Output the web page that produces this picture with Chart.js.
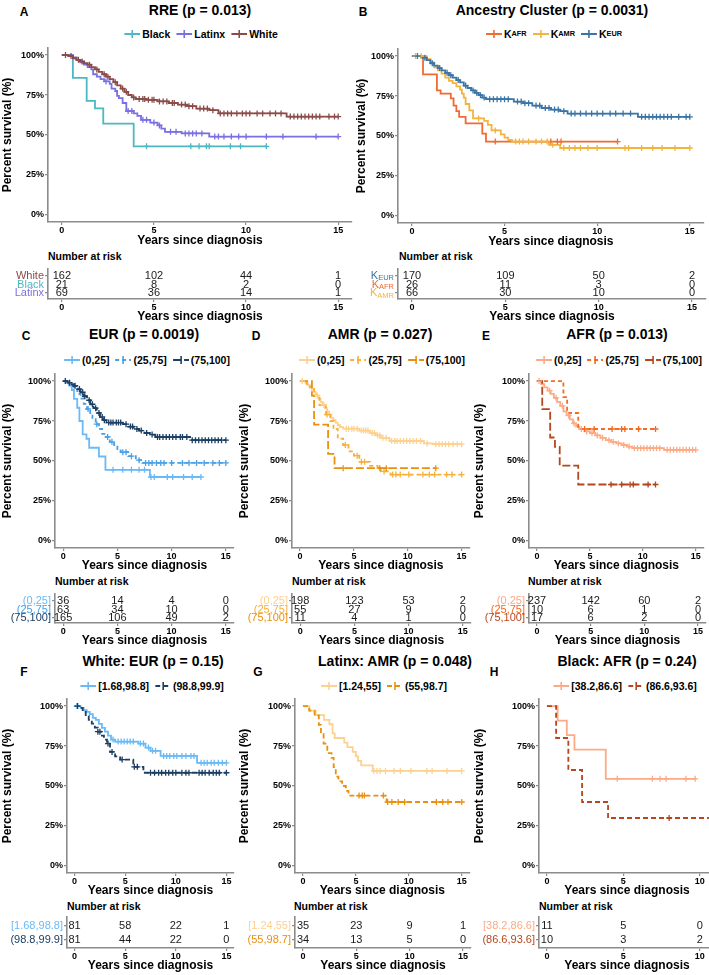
<!DOCTYPE html>
<html><head><meta charset="utf-8">
<script src="https://cdn.jsdelivr.net/npm/chart.js@4.4.0/dist/chart.umd.min.js"></script>
<style>
html,body{margin:0;padding:0;background:#fff;width:709px;height:975px;overflow:hidden;}
#root{position:relative;width:709px;height:975px;overflow:hidden;font-family:'Liberation Sans',Arial,sans-serif;color:#000;}
canvas{position:absolute;}
.c{position:absolute;transform:translate(-50%,-50%);white-space:nowrap;}
.title{font-weight:bold;font-size:14px;}
.letter{font-weight:bold;font-size:12px;}
.nar{position:absolute;transform:translateY(-50%);font-weight:bold;font-size:10.5px;white-space:nowrap;}
.leg{position:absolute;transform:translate(-50%,-50%);display:flex;align-items:center;font-weight:bold;font-size:10.5px;white-space:nowrap;}
.leg .item{display:flex;align-items:center;margin:0 3px;}
.leg svg{margin-right:2px;}
sub{font-size:70%;vertical-align:-2px;line-height:0;}
</style></head>
<body><div id="root"></div>
<script>
const FONT = "'Liberation Sans', Arial, sans-serif";
const xTicks15 = [0, 5, 10, 15];
const xTicks10 = [0, 5, 10];
const yTicks = [0, 0.25, 0.5, 0.75, 1];
const riskTimes15 = [0, 5, 10, 15];
const riskTimes10 = [0, 5, 10];

// ---------- Panel A : RRE ----------
const aWhiteTime = [0, 0.35, 0.6, 0.8, 1.0, 1.2, 1.4, 1.6, 1.8, 2.0, 2.2, 2.4, 2.6, 2.8, 3.0, 3.2, 3.4, 3.6, 3.8, 4.0, 4.6, 5.2, 5.8, 6.3, 6.8, 7.3, 8.0, 8.5, 12.2, 15.0];
const aWhiteSurv = [1, 0.994, 0.98, 0.97, 0.96, 0.95, 0.94, 0.925, 0.91, 0.895, 0.88, 0.865, 0.85, 0.83, 0.81, 0.79, 0.77, 0.75, 0.735, 0.725, 0.72, 0.71, 0.70, 0.69, 0.68, 0.665, 0.655, 0.635, 0.615, 0.615];
const aWhiteCens = [0.2, 0.5, 0.9, 1.1, 1.5, 1.9, 2.3, 2.5, 2.9, 3.3, 3.5, 3.9, 4.2, 4.4, 4.5, 4.7, 4.9, 5.0, 5.3, 5.5, 5.7, 6.0, 6.1, 6.5, 6.7, 6.9, 7.1, 7.5, 7.7, 7.9, 8.2, 8.6, 8.8, 9.0, 9.2, 9.5, 9.8, 10.0, 10.2, 10.6, 10.9, 11.3, 11.6, 11.9, 12.4, 12.6, 12.8, 13.0, 13.2, 13.4, 13.6, 13.8, 14.0, 14.5, 14.8, 15.0];
const aLatinxTime = [0, 0.6, 0.8, 1.0, 1.2, 1.4, 1.6, 1.7, 1.9, 2.1, 2.3, 2.6, 2.7, 2.9, 3.0, 3.1, 3.3, 3.5, 3.9, 4.1, 4.3, 4.8, 5.2, 5.4, 5.6, 6.5, 8.0, 15.0];
const aLatinxSurv = [1, 0.985, 0.97, 0.955, 0.94, 0.925, 0.91, 0.88, 0.865, 0.85, 0.835, 0.82, 0.79, 0.775, 0.745, 0.73, 0.70, 0.65, 0.635, 0.62, 0.595, 0.578, 0.56, 0.54, 0.52, 0.51, 0.49, 0.49];
const aLatinxCens = [2.4, 3.6, 3.8, 4.4, 4.6, 5.0, 5.3, 5.9, 6.2, 6.7, 6.9, 7.1, 7.3, 7.6, 8.3, 8.5, 8.8, 9.2, 9.6, 10.0, 11.1, 12.0, 13.8, 15.0];
const aBlackTime = [0, 0.6, 1.35, 1.8, 2.25, 3.9, 11.1];
const aBlackSurv = [1, 0.857, 0.714, 0.667, 0.571, 0.429, 0.429];
const aBlackCens = [4.6, 7.0, 7.45, 7.85, 8.0, 9.15, 9.7, 11.1];
const aRiskWhite = [162, 102, 44, 1];
const aRiskBlack = [21, 8, 2, 0];
const aRiskLatinx = [69, 36, 14, 1];

// ---------- Panel B : Ancestry cluster ----------
const bEurTime = [0, 0.5, 0.8, 1.0, 1.2, 1.4, 1.6, 1.8, 2.0, 2.2, 2.4, 2.6, 2.8, 3.0, 3.2, 3.4, 3.6, 3.8, 4.0, 5.5, 6.0, 6.5, 7.0, 7.5, 8.0, 8.4, 12.2, 15.0];
const bEurSurv = [1, 0.99, 0.975, 0.955, 0.94, 0.925, 0.91, 0.895, 0.88, 0.865, 0.85, 0.835, 0.815, 0.80, 0.785, 0.77, 0.755, 0.74, 0.73, 0.715, 0.705, 0.69, 0.675, 0.665, 0.655, 0.64, 0.62, 0.62];
const bEurCens = [0.3, 0.7, 1.1, 1.5, 1.9, 2.1, 2.5, 2.9, 3.3, 3.5, 3.7, 3.9, 4.2, 4.4, 4.6, 4.8, 5.0, 5.2, 5.7, 5.9, 6.1, 6.3, 6.7, 6.9, 7.2, 7.4, 7.7, 7.9, 8.2, 8.6, 8.8, 9.1, 9.4, 9.7, 10.0, 10.3, 10.7, 11.0, 11.4, 11.8, 12.4, 12.6, 12.8, 13.0, 13.2, 13.4, 13.6, 13.8, 14.0, 14.4, 14.8, 15.0];
const bAmrTime = [0, 0.8, 1.0, 1.2, 1.4, 1.6, 1.8, 2.0, 2.2, 2.4, 2.6, 2.7, 2.8, 2.9, 3.1, 3.3, 3.9, 4.1, 4.3, 4.8, 5.0, 5.2, 5.4, 7.4, 8.0, 15.0];
const bAmrSurv = [1, 0.98, 0.96, 0.93, 0.91, 0.89, 0.865, 0.845, 0.83, 0.81, 0.79, 0.765, 0.74, 0.70, 0.66, 0.61, 0.595, 0.57, 0.535, 0.51, 0.49, 0.475, 0.465, 0.445, 0.425, 0.425];
const bAmrCens = [0.2, 0.5, 3.6, 4.5, 5.6, 5.8, 6.0, 6.3, 6.7, 7.0, 7.3, 7.6, 8.2, 8.5, 8.8, 9.1, 9.5, 10.0, 11.5, 11.7, 12.4, 13.0, 13.5, 14.2, 15.0];
const bAfrTime = [0, 0.6, 1.35, 1.55, 2.1, 2.25, 2.4, 2.55, 2.9, 3.8, 4.0, 11.1];
const bAfrSurv = [1, 0.885, 0.785, 0.765, 0.735, 0.69, 0.655, 0.62, 0.579, 0.515, 0.465, 0.465];
const bAfrCens = [4.5, 7.5, 7.85, 8.05, 11.1];
const bRiskEur = [170, 109, 50, 2];
const bRiskAfr = [26, 11, 3, 0];
const bRiskAmr = [66, 30, 10, 0];

// ---------- Panel C : EUR ----------
const cLowTime = [0, 0.55, 0.8, 1.0, 1.3, 1.5, 1.8, 2.15, 2.4, 3.3, 3.9, 8.0, 12.7];
const cLowSurv = [1, 0.972, 0.944, 0.889, 0.833, 0.75, 0.667, 0.639, 0.583, 0.528, 0.445, 0.40, 0.40];
const cLowCens = [4.6, 5.5, 6.3, 7.0, 7.5, 8.1, 8.4, 9.6, 10.1, 11.1, 11.9, 12.7];
const cMidTime = [0, 0.5, 0.8, 1.0, 1.3, 1.6, 1.9, 2.2, 2.5, 2.7, 3.0, 3.3, 3.6, 3.95, 4.3, 4.7, 5.0, 5.3, 6.0, 6.7, 7.3, 15.0];
const cMidSurv = [1, 0.984, 0.968, 0.952, 0.92, 0.89, 0.857, 0.825, 0.794, 0.762, 0.73, 0.70, 0.67, 0.65, 0.62, 0.60, 0.575, 0.555, 0.53, 0.505, 0.488, 0.488];
const cMidCens = [2.3, 3.1, 4.1, 4.5, 5.5, 5.8, 6.3, 7.0, 7.6, 7.9, 8.2, 8.6, 9.0, 9.3, 10.0, 11.0, 11.6, 12.3, 13.0, 13.8, 14.4, 15.0];
const cHighTime = [0, 0.4, 0.8, 1.0, 1.3, 1.6, 1.9, 2.2, 2.5, 2.8, 3.1, 3.4, 3.7, 4.0, 5.5, 6.0, 6.5, 7.0, 7.5, 8.0, 8.5, 11.7, 15.0];
const cHighSurv = [1, 0.99, 0.98, 0.97, 0.95, 0.93, 0.905, 0.88, 0.855, 0.83, 0.80, 0.775, 0.755, 0.74, 0.73, 0.715, 0.70, 0.69, 0.675, 0.665, 0.65, 0.63, 0.63];
const cHighCens = [0.2, 0.6, 1.1, 1.5, 1.8, 2.0, 2.4, 2.7, 3.0, 3.3, 3.6, 3.8, 4.2, 4.4, 4.6, 4.9, 5.1, 5.3, 5.8, 6.2, 6.4, 6.8, 7.2, 7.7, 8.2, 8.7, 8.9, 9.2, 9.5, 9.8, 10.1, 10.4, 10.8, 11.0, 11.4, 11.9, 12.2, 12.5, 12.8, 13.1, 13.4, 13.7, 14.0, 14.3, 14.6, 15.0];
const cRiskLow = [36, 14, 4, 0];
const cRiskMid = [63, 34, 10, 0];
const cRiskHigh = [165, 106, 49, 2];

// ---------- Panel D : AMR ----------
const dLowTime = [0, 0.5, 0.7, 0.9, 1.1, 1.3, 1.5, 1.7, 1.9, 2.1, 2.3, 2.5, 2.7, 2.9, 3.1, 3.3, 3.5, 3.7, 4.0, 5.5, 6.5, 7.0, 7.5, 8.3, 11.5, 12.3, 15.0];
const dLowSurv = [1, 0.99, 0.975, 0.96, 0.945, 0.93, 0.91, 0.89, 0.87, 0.85, 0.83, 0.81, 0.79, 0.77, 0.755, 0.74, 0.725, 0.712, 0.702, 0.69, 0.675, 0.66, 0.645, 0.625, 0.61, 0.605, 0.605];
const dLowCens = [0.2, 1.6, 2.2, 4.3, 4.5, 4.8, 5.0, 5.3, 5.7, 5.9, 6.1, 6.3, 6.7, 6.9, 7.2, 7.4, 7.7, 8.0, 8.5, 8.8, 9.0, 9.3, 9.6, 9.9, 10.2, 10.5, 10.8, 11.2, 11.8, 12.6, 12.9, 13.2, 13.5, 13.8, 14.2, 14.6, 15.0];
const dMidTime = [0, 0.6, 0.9, 1.3, 1.8, 2.4, 2.8, 3.1, 3.5, 4.0, 4.5, 5.0, 5.5, 6.5, 7.2, 7.5, 8.4, 15.0];
const dMidSurv = [1, 0.982, 0.96, 0.91, 0.85, 0.79, 0.75, 0.70, 0.64, 0.60, 0.56, 0.533, 0.495, 0.47, 0.45, 0.435, 0.415, 0.415];
const dMidCens = [2.5, 4.2, 5.3, 5.7, 6.0, 7.8, 8.6, 8.9, 9.3, 10.1, 11.4, 12.0, 12.5, 13.6, 14.1, 15.0];
const dHighTime = [0, 1.1, 1.3, 2.6, 3.2, 12.6];
const dHighSurv = [1, 0.909, 0.727, 0.545, 0.455, 0.455];
const dHighCens = [4.0, 7.4, 8.0, 12.6];
const dRiskLow = [198, 123, 53, 2];
const dRiskMid = [55, 27, 9, 0];
const dRiskHigh = [11, 4, 1, 0];

// ---------- Panel E : AFR ----------
const eLowTime = [0, 0.4, 0.7, 1.0, 1.3, 1.6, 1.9, 2.2, 2.5, 2.8, 3.1, 3.4, 3.7, 4.0, 4.5, 5.0, 5.5, 6.0, 6.5, 7.0, 7.5, 8.0, 8.5, 9.0, 12.0, 15.0];
const eLowSurv = [1, 0.98, 0.96, 0.94, 0.92, 0.895, 0.87, 0.845, 0.81, 0.785, 0.76, 0.735, 0.715, 0.70, 0.685, 0.675, 0.66, 0.645, 0.63, 0.62, 0.61, 0.60, 0.59, 0.58, 0.57, 0.57];
const eLowCens = [0.2, 1.2, 1.8, 2.4, 3.0, 3.5, 4.2, 4.7, 5.2, 5.7, 6.2, 6.8, 7.2, 7.7, 8.2, 8.7, 9.2, 9.5, 9.8, 10.1, 10.4, 10.7, 11.0, 11.3, 11.6, 12.3, 12.6, 12.9, 13.2, 13.5, 13.8, 14.1, 14.4, 14.7, 15.0];
const eMidTime = [0, 2.5, 2.85, 3.9, 11.2];
const eMidSurv = [1, 0.9, 0.8, 0.7, 0.7];
const eMidCens = [4.5, 5.4, 7.1, 8.0, 8.3, 9.6, 11.2];
const eHighTime = [0, 0.5, 1.25, 1.7, 2.15, 3.9, 11.2];
const eHighSurv = [1, 0.824, 0.647, 0.588, 0.471, 0.353, 0.353];
const eHighCens = [7.0, 8.0, 8.8, 9.1, 10.5, 11.2];
const eRiskLow = [237, 142, 60, 2];
const eRiskMid = [10, 6, 1, 0];
const eRiskHigh = [17, 6, 2, 0];

// ---------- Panel F : White: EUR ----------
const fLowTime = [0, 0.6, 0.9, 1.2, 1.5, 1.8, 2.1, 2.4, 2.7, 3.0, 3.3, 3.6, 4.0, 6.3, 7.0, 7.5, 8.5, 12.1, 15.0];
const fLowSurv = [1, 0.988, 0.975, 0.963, 0.95, 0.926, 0.913, 0.888, 0.864, 0.84, 0.815, 0.79, 0.778, 0.765, 0.74, 0.72, 0.688, 0.645, 0.645];
const fLowCens = [0.2, 3.8, 4.3, 4.6, 4.9, 5.2, 5.5, 5.8, 6.5, 6.8, 7.3, 7.7, 8.0, 8.8, 9.1, 9.4, 9.8, 10.1, 10.6, 11.0, 11.5, 11.8, 12.5, 12.8, 13.1, 13.5, 13.8, 14.2, 14.6, 15.0];
const fHighTime = [0, 0.5, 0.8, 1.1, 1.4, 1.7, 2.0, 2.3, 2.6, 2.9, 3.2, 3.5, 4.0, 4.5, 5.8, 6.8, 15.0];
const fHighSurv = [1, 0.988, 0.963, 0.938, 0.914, 0.89, 0.865, 0.84, 0.815, 0.79, 0.765, 0.713, 0.685, 0.665, 0.62, 0.583, 0.583];
const fHighCens = [0.3, 2.3, 2.5, 3.3, 3.7, 4.7, 5.9, 6.2, 7.5, 7.9, 8.3, 8.6, 9.0, 9.3, 9.7, 10.0, 10.6, 11.0, 11.3, 12.3, 12.6, 12.9, 13.3, 13.7, 14.0, 14.3, 15.0];
const fRiskLow = [81, 58, 22, 1];
const fRiskHigh = [81, 44, 22, 0];

// ---------- Panel G : Latinx: AMR ----------
const gLowTime = [0, 0.6, 1.2, 2.0, 2.5, 2.8, 3.0, 3.9, 4.2, 4.7, 5.0, 5.2, 5.5, 6.6, 15.0];
const gLowSurv = [1, 0.971, 0.943, 0.914, 0.886, 0.829, 0.80, 0.771, 0.743, 0.714, 0.686, 0.657, 0.629, 0.594, 0.594];
const gLowCens = [6.7, 7.0, 7.3, 7.8, 8.6, 9.2, 10.2, 11.7, 12.2, 13.6, 15.0];
const gHighTime = [0, 0.6, 1.1, 1.5, 1.7, 1.95, 2.3, 2.7, 2.9, 3.1, 3.35, 3.7, 4.05, 4.3, 7.9, 15.0];
const gHighSurv = [1, 0.971, 0.941, 0.882, 0.824, 0.765, 0.706, 0.676, 0.618, 0.559, 0.529, 0.50, 0.47, 0.44, 0.40, 0.40];
const gHighCens = [5.3, 5.6, 5.8, 7.6, 8.0, 8.4, 9.0, 9.6, 12.6, 13.2, 13.7, 15.0];
const gRiskLow = [35, 23, 9, 1];
const gRiskHigh = [34, 13, 5, 0];

// ---------- Panel H : Black: AFR ----------
const hLowTime = [0, 0.7, 1.3, 1.8, 3.85, 9.7];
const hLowSurv = [1, 0.909, 0.818, 0.727, 0.545, 0.545];
const hLowCens = [4.6, 6.9, 7.4, 7.8, 9.1, 9.7];
const hHighTime = [0, 0.6, 1.4, 2.3, 4.0, 10.6];
const hHighSurv = [1, 0.8, 0.6, 0.4, 0.3, 0.3];
const hHighCens = [8.0];
const hRiskLow = [11, 5, 0];
const hRiskHigh = [10, 3, 2];

// ---------- helpers ----------
const AXIS_COLOR = '#8c8c8c';
const DASH_SHORT = [4, 3];
const DASH_LONG = [8, 3];
const DASH_TWO = [5, 3];

function survAt(time, surv, t) {
  let v = surv[0];
  for (let i = 0; i < time.length; i++) { if (time[i] <= t) v = surv[i]; }
  return v;
}
const root = document.getElementById('root');
function addDiv(cls, x, y, html) {
  const d = document.createElement('div');
  d.className = cls; d.style.left = x + 'px'; d.style.top = y + 'px'; d.innerHTML = html;
  root.appendChild(d); return d;
}
function addCanvas(L, T, W, H) {
  const c = document.createElement('canvas');
  c.width = W; c.height = H;
  c.style.left = L + 'px'; c.style.top = T + 'px'; c.style.width = W + 'px'; c.style.height = H + 'px';
  root.appendChild(c); return c;
}
function xAxis(g) {
  return {
    type: 'linear', min: g.xmin, max: g.xmax,
    afterBuildTicks: s => { s.ticks = g.xticks.map(v => ({ value: v })); },
    afterFit: s => { s.height = g.T + g.H - g.CB; },
    grid: { drawOnChartArea: false, drawTicks: true, tickLength: 3, color: AXIS_COLOR, lineWidth: 1.2 },
    border: { display: true, color: AXIS_COLOR, width: 1.6 },
    ticks: { color: '#000', font: { family: FONT, size: 9, weight: 'bold' }, padding: 0, maxRotation: 0, autoSkip: false, callback: v => String(v) },
    title: { display: true, text: 'Years since diagnosis', color: '#000', font: { family: FONT, size: 12, weight: 'bold' }, padding: 0 }
  };
}
function mainChart(g, series) {
  const c = addCanvas(g.L, g.T, g.W, g.H);
  const ds = [];
  series.forEach((s, i) => {
    ds.push({ label: s.name, showLine: true, stepped: 'before',
      data: s.time.map((t, k) => ({ x: t, y: s.surv[k] })),
      borderColor: s.color, backgroundColor: s.color, borderWidth: 1.8, borderDash: s.dash,
      pointRadius: 0, order: 20 + i, clip: false });
    ds.push({ label: s.name + ' censored', showLine: false,
      data: s.cens.map(t => ({ x: t, y: survAt(s.time, s.surv, t) })),
      pointStyle: 'cross', pointRadius: 3, borderColor: s.color, backgroundColor: s.color, borderWidth: 1.3,
      order: i, clip: false });
  });
  new Chart(c, {
    type: 'scatter', data: { datasets: ds },
    options: {
      responsive: false, animation: false, events: [],
      layout: { padding: { left: 0, top: g.CT - g.T, right: g.L + g.W - g.CR, bottom: 0 } },
      plugins: { legend: { display: false }, tooltip: { enabled: false } },
      scales: {
        x: xAxis(g),
        y: {
          type: 'linear', min: -0.044, max: 1.044,
          afterBuildTicks: s => { s.ticks = yTicks.map(v => ({ value: v })); },
          afterFit: s => { s.width = g.CL - g.L; },
          grid: { drawOnChartArea: false, drawTicks: true, tickLength: 3, color: AXIS_COLOR, lineWidth: 1.2 },
          border: { display: true, color: AXIS_COLOR, width: 1.6 },
          ticks: { color: '#000', font: { family: FONT, size: 9, weight: 'bold' }, padding: 1, callback: v => Math.round(v * 100) + '%' },
          title: { display: true, text: 'Percent survival (%)', color: '#000', font: { family: FONT, size: 12, weight: 'bold' }, padding: 0 }
        }
      }
    }
  });
}
function riskChart(g, rows, times) {
  const c = addCanvas(g.L, g.T, g.W, g.H);
  const ds = rows.map((r, i) => ({
    label: r.label + (r.sub || ''), showLine: false, pointRadius: 0,
    data: times.map((t, k) => ({ x: t, y: i + 1, n: r.values[k] }))
  }));
  const textPlugin = {
    id: 'riskText',
    afterDatasetsDraw(chart) {
      const ctx = chart.ctx;
      ctx.save();
      ctx.textBaseline = 'middle';
      chart.data.datasets.forEach((d, i) => {
        const meta = chart.getDatasetMeta(i);
        ctx.font = '11px ' + FONT; ctx.fillStyle = '#1a1a1a'; ctx.textAlign = 'center';
        meta.data.forEach((pt, k) => { ctx.fillText(String(d.data[k].n), pt.x, pt.y + 0.5); });
      });
      const right = chart.chartArea.left - 4;
      rows.forEach((r, i) => {
        const y = chart.scales.y.getPixelForValue(i + 1) + 0.5;
        ctx.fillStyle = r.color;
        if (r.sub) {
          ctx.font = '7.5px ' + FONT; ctx.textAlign = 'right';
          const sw = ctx.measureText(r.sub).width;
          ctx.fillText(r.sub, right, y + 2.5);
          ctx.font = '11px ' + FONT;
          ctx.fillText(r.label, right - sw, y);
        } else {
          ctx.font = '11px ' + FONT; ctx.textAlign = 'right';
          ctx.fillText(r.label, right, y);
        }
      });
      ctx.restore();
    }
  };
  new Chart(c, {
    type: 'scatter', data: { datasets: ds },
    options: {
      responsive: false, animation: false, events: [],
      layout: { padding: { left: 0, top: g.CT - g.T, right: g.L + g.W - g.CR, bottom: 0 } },
      plugins: { legend: { display: false }, tooltip: { enabled: false } },
      scales: {
        x: xAxis(g),
        y: {
          type: 'linear', reverse: true, min: g.ymin, max: g.ymax,
          afterBuildTicks: s => { s.ticks = rows.map((r, i) => ({ value: i + 1 })); },
          afterFit: s => { s.width = g.CL - g.L; },
          grid: { drawOnChartArea: false, drawTicks: true, tickLength: 3, color: AXIS_COLOR, lineWidth: 1.2 },
          border: { display: true, color: AXIS_COLOR, width: 1.6 },
          ticks: { display: true, padding: 0, callback: () => '' },
          title: { display: false }
        }
      }
    },
    plugins: [textPlugin]
  });
}
function legend(x, y, items) {
  const html = items.map(it => {
    const dash = it.dash && it.dash.length ? ` stroke-dasharray="${it.dash.join(',')}"` : '';
    return `<span class="item"><svg width="16" height="10"><line x1="0" y1="5" x2="16" y2="5" stroke="${it.color}" stroke-width="2"${dash}/><line x1="8" y1="1" x2="8" y2="9" stroke="${it.color}" stroke-width="1.6"/></svg>${it.html}</span>`;
  }).join('');
  addDiv('leg', x, y, html);
}

// ---------- colours ----------
const colBlack = '#4db8c2', colLatinx = '#7a70e3', colWhite = '#8b4b48';
const colKAfr = '#ee6b33', colKAmr = '#f2b43f', colKEur = '#3b74a6';
const colEurLow = '#6bbaf7', colEurMid = '#4aa0e4', colEurHigh = '#1c3f63';
const colAmrLow = '#fdd190', colAmrMid = '#f7b03a', colAmrHigh = '#e9900f';
const colAfrLow = '#fcab86', colAfrMid = '#f46b22', colAfrHigh = '#b6461d';

// ---------- geometry ----------
const gA = { L: 0, T: 40, W: 360, H: 208, CL: 48, CR: 352, CT: 48, CB: 222, xmin: -0.75, xmax: 15.75, xticks: xTicks15 };
const gB = { L: 354, T: 40, W: 355, H: 209, CL: 398, CR: 706, CT: 49, CB: 223, xmin: -0.75, xmax: 15.75, xticks: xTicks15 };
const gC = { L: 0, T: 366, W: 240, H: 207, CL: 55, CR: 234, CT: 374, CB: 548, xmin: -0.75, xmax: 15.75, xticks: xTicks15 };
const gD = { L: 237, T: 366, W: 238, H: 207, CL: 292, CR: 471, CT: 374, CB: 548, xmin: -0.75, xmax: 15.75, xticks: xTicks15 };
const gE = { L: 472, T: 366, W: 237, H: 207, CL: 529, CR: 706, CT: 374, CB: 548, xmin: -0.75, xmax: 15.75, xticks: xTicks15 };
const gF = { L: 0, T: 690, W: 240, H: 208, CL: 67, CR: 234, CT: 699, CB: 873, xmin: -0.75, xmax: 15.75, xticks: xTicks15 };
const gG = { L: 237, T: 690, W: 238, H: 208, CL: 295, CR: 471, CT: 699, CB: 873, xmin: -0.75, xmax: 15.75, xticks: xTicks15 };
const gH = { L: 472, T: 690, W: 250, H: 208, CL: 539, CR: 715, CT: 699, CB: 873, xmin: -0.52, xmax: 11.0, xticks: xTicks10 };

const tA = Object.assign({}, gA, { T: 262, H: 62, CT: 265, CB: 299, ymin: 0.3, ymax: 3.7 });
const tB = Object.assign({}, gB, { T: 262, H: 62, CT: 265, CB: 299, ymin: 0.3, ymax: 3.7 });
const tC = Object.assign({}, gC, { T: 587, H: 61, CT: 590, CB: 623, ymin: 0.3, ymax: 3.6 });
const tD = Object.assign({}, gD, { T: 587, H: 61, CT: 590, CB: 623, ymin: 0.3, ymax: 3.6 });
const tE = Object.assign({}, gE, { T: 587, H: 61, CT: 590, CB: 623, ymin: 0.3, ymax: 3.6 });
const tF = Object.assign({}, gF, { T: 910, H: 63, CT: 914, CB: 948, ymin: 0.45, ymax: 2.55 });
const tG = Object.assign({}, gG, { T: 910, H: 63, CT: 914, CB: 948, ymin: 0.45, ymax: 2.55 });
const tH = Object.assign({}, gH, { T: 910, H: 63, CT: 914, CB: 948, ymin: 0.45, ymax: 2.55 });

// ---------- titles, letters ----------
addDiv('c title', 200, 10, 'RRE (p = 0.013)');
addDiv('c title', 552, 10, 'Ancestry Cluster (p = 0.0031)');
addDiv('c title', 144, 334, 'EUR (p = 0.0019)');
addDiv('c title', 380, 334, 'AMR (p = 0.027)');
addDiv('c title', 617, 334, 'AFR (p = 0.013)');
addDiv('c title', 153, 661, 'White: EUR (p = 0.15)');
addDiv('c title', 395, 661, 'Latinx: AMR (p = 0.048)');
addDiv('c title', 627, 661, 'Black: AFR (p = 0.24)');
[['A', 24, 12], ['B', 363, 12], ['C', 26, 336], ['D', 256, 336], ['E', 486, 336], ['F', 24, 672], ['G', 258, 672], ['H', 494, 672]]
  .forEach(l => addDiv('c letter', l[1], l[2], l[0]));
[[48, 256], [399, 256], [55, 581], [292, 581], [528, 581], [67, 906], [294, 906], [539, 906]]
  .forEach(p => addDiv('nar', p[0], p[1], 'Number at risk'));

// ---------- legends ----------
legend(201, 34, [{ color: colBlack, html: 'Black' }, { color: colLatinx, html: 'Latinx' }, { color: colWhite, html: 'White' }]);
legend(554, 34, [{ color: colKAfr, html: 'K<sub>AFR</sub>' }, { color: colKAmr, html: 'K<sub>AMR</sub>' }, { color: colKEur, html: 'K<sub>EUR</sub>' }]);
legend(147, 360, [{ color: colEurLow, html: '(0,25]' }, { color: colEurMid, dash: DASH_SHORT, html: '(25,75]' }, { color: colEurHigh, dash: DASH_LONG, html: '(75,100]' }]);
legend(382, 360, [{ color: colAmrLow, html: '(0,25]' }, { color: colAmrMid, dash: DASH_SHORT, html: '(25,75]' }, { color: colAmrHigh, dash: DASH_LONG, html: '(75,100]' }]);
legend(619, 360, [{ color: colAfrLow, html: '(0,25]' }, { color: colAfrMid, dash: DASH_SHORT, html: '(25,75]' }, { color: colAfrHigh, dash: DASH_LONG, html: '(75,100]' }]);
legend(152, 686, [{ color: colEurLow, html: '[1.68,98.8]' }, { color: colEurHigh, dash: DASH_TWO, html: '(98.8,99.9]' }]);
legend(384, 686, [{ color: colAmrLow, html: '[1.24,55]' }, { color: colAmrHigh, dash: DASH_TWO, html: '(55,98.7]' }]);
legend(625, 686, [{ color: colAfrLow, html: '[38.2,86.6]' }, { color: colAfrHigh, dash: DASH_TWO, html: '(86.6,93.6]' }]);

// ---------- charts ----------
mainChart(gA, [
  { name: 'White', time: aWhiteTime, surv: aWhiteSurv, cens: aWhiteCens, color: colWhite, dash: [] },
  { name: 'Latinx', time: aLatinxTime, surv: aLatinxSurv, cens: aLatinxCens, color: colLatinx, dash: [] },
  { name: 'Black', time: aBlackTime, surv: aBlackSurv, cens: aBlackCens, color: colBlack, dash: [] }
]);
riskChart(tA, [
  { label: 'White', color: colWhite, values: aRiskWhite },
  { label: 'Black', color: colBlack, values: aRiskBlack },
  { label: 'Latinx', color: colLatinx, values: aRiskLatinx }
], riskTimes15);

mainChart(gB, [
  { name: 'KEUR', time: bEurTime, surv: bEurSurv, cens: bEurCens, color: colKEur, dash: [] },
  { name: 'KAMR', time: bAmrTime, surv: bAmrSurv, cens: bAmrCens, color: colKAmr, dash: [] },
  { name: 'KAFR', time: bAfrTime, surv: bAfrSurv, cens: bAfrCens, color: colKAfr, dash: [] }
]);
riskChart(tB, [
  { label: 'K', sub: 'EUR', color: colKEur, values: bRiskEur },
  { label: 'K', sub: 'AFR', color: colKAfr, values: bRiskAfr },
  { label: 'K', sub: 'AMR', color: colKAmr, values: bRiskAmr }
], riskTimes15);

mainChart(gC, [
  { name: '(75,100]', time: cHighTime, surv: cHighSurv, cens: cHighCens, color: colEurHigh, dash: DASH_LONG },
  { name: '(25,75]', time: cMidTime, surv: cMidSurv, cens: cMidCens, color: colEurMid, dash: DASH_SHORT },
  { name: '(0,25]', time: cLowTime, surv: cLowSurv, cens: cLowCens, color: colEurLow, dash: [] }
]);
riskChart(tC, [
  { label: '(0,25]', color: colEurLow, values: cRiskLow },
  { label: '(25,75]', color: colEurMid, values: cRiskMid },
  { label: '(75,100]', color: colEurHigh, values: cRiskHigh }
], riskTimes15);

mainChart(gD, [
  { name: '(75,100]', time: dHighTime, surv: dHighSurv, cens: dHighCens, color: colAmrHigh, dash: DASH_LONG },
  { name: '(25,75]', time: dMidTime, surv: dMidSurv, cens: dMidCens, color: colAmrMid, dash: DASH_SHORT },
  { name: '(0,25]', time: dLowTime, surv: dLowSurv, cens: dLowCens, color: colAmrLow, dash: [] }
]);
riskChart(tD, [
  { label: '(0,25]', color: colAmrLow, values: dRiskLow },
  { label: '(25,75]', color: colAmrMid, values: dRiskMid },
  { label: '(75,100]', color: colAmrHigh, values: dRiskHigh }
], riskTimes15);

mainChart(gE, [
  { name: '(75,100]', time: eHighTime, surv: eHighSurv, cens: eHighCens, color: colAfrHigh, dash: DASH_LONG },
  { name: '(25,75]', time: eMidTime, surv: eMidSurv, cens: eMidCens, color: colAfrMid, dash: DASH_SHORT },
  { name: '(0,25]', time: eLowTime, surv: eLowSurv, cens: eLowCens, color: colAfrLow, dash: [] }
]);
riskChart(tE, [
  { label: '(0,25]', color: colAfrLow, values: eRiskLow },
  { label: '(25,75]', color: colAfrMid, values: eRiskMid },
  { label: '(75,100]', color: colAfrHigh, values: eRiskHigh }
], riskTimes15);

mainChart(gF, [
  { name: '(98.8,99.9]', time: fHighTime, surv: fHighSurv, cens: fHighCens, color: colEurHigh, dash: DASH_TWO },
  { name: '[1.68,98.8]', time: fLowTime, surv: fLowSurv, cens: fLowCens, color: colEurLow, dash: [] }
]);
riskChart(tF, [
  { label: '[1.68,98.8]', color: colEurLow, values: fRiskLow },
  { label: '(98.8,99.9]', color: colEurHigh, values: fRiskHigh }
], riskTimes15);

mainChart(gG, [
  { name: '(55,98.7]', time: gHighTime, surv: gHighSurv, cens: gHighCens, color: colAmrHigh, dash: DASH_TWO },
  { name: '[1.24,55]', time: gLowTime, surv: gLowSurv, cens: gLowCens, color: colAmrLow, dash: [] }
]);
riskChart(tG, [
  { label: '[1.24,55]', color: colAmrLow, values: gRiskLow },
  { label: '(55,98.7]', color: colAmrHigh, values: gRiskHigh }
], riskTimes15);

mainChart(gH, [
  { name: '(86.6,93.6]', time: hHighTime, surv: hHighSurv, cens: hHighCens, color: colAfrHigh, dash: DASH_TWO },
  { name: '[38.2,86.6]', time: hLowTime, surv: hLowSurv, cens: hLowCens, color: colAfrLow, dash: [] }
]);
riskChart(tH, [
  { label: '[38.2,86.6]', color: colAfrLow, values: hRiskLow },
  { label: '(86.6,93.6]', color: colAfrHigh, values: hRiskHigh }
], riskTimes10);
</script>
</body></html>
